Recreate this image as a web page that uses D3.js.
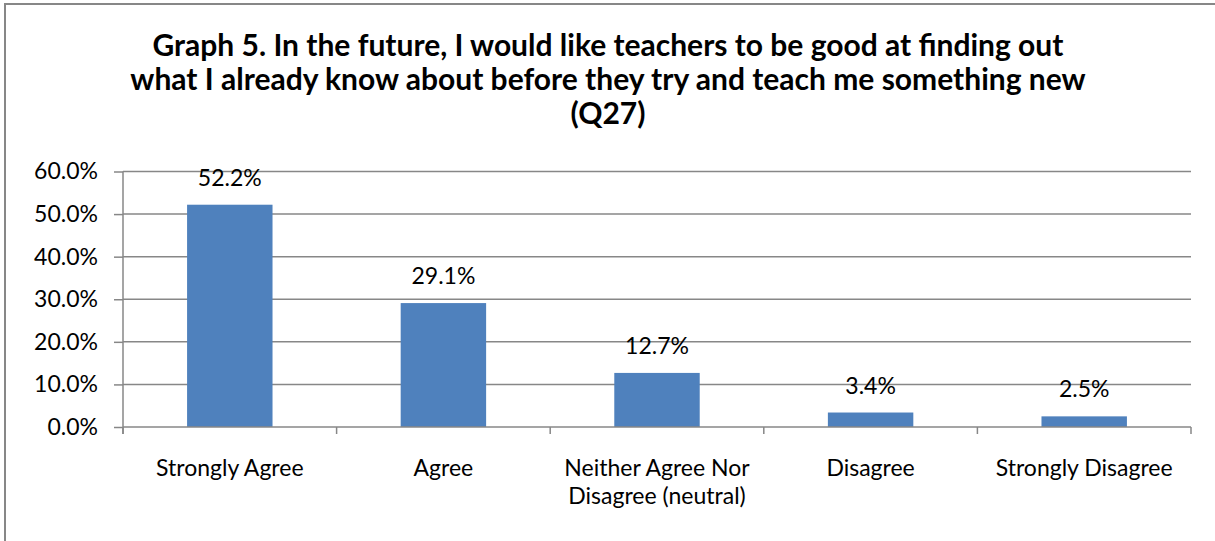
<!DOCTYPE html>
<html>
<head>
<meta charset="utf-8">
<script src="https://cdn.jsdelivr.net/npm/d3@7"></script>
<style>
  html, body { margin: 0; padding: 0; background: #fff; }
  svg { display: block; font-family: Lato, "Open Sans", sans-serif; }
</style>
</head>
<body>
<svg id="chart" width="1215" height="541"></svg>
<script>
// Survey responses for Q27
const categories = [
  ["Strongly Agree"],
  ["Agree"],
  ["Neither Agree Nor", "Disagree (neutral)"],
  ["Disagree"],
  ["Strongly Disagree"]
];
const values = [0.522, 0.291, 0.127, 0.034, 0.025];
const yTicks = [0, 0.1, 0.2, 0.3, 0.4, 0.5, 0.6];
const titleLines = [
  "Graph 5. In the future, I would like teachers to be good at finding out",
  "what I already know about before they try and teach me something new",
  "(Q27)"
];

const svg = d3.select("#chart");
const W = 1215, H = 541;
const gridColor = "#878787";
const barColor = "#4F81BD";
const labelSize = 23;

// outer chart frame
svg.append("rect")
  .attr("x", 5).attr("y", 4)
  .attr("width", W + 10).attr("height", H + 10)
  .attr("fill", "none").attr("stroke", gridColor).attr("stroke-width", 2);

// title
const title = svg.append("text")
  .attr("text-anchor", "middle")
  .attr("font-weight", "bold")
  .attr("font-size", 30)
  .attr("fill", "#000");
titleLines.forEach((t, i) => {
  title.append("tspan").attr("x", 608).attr("y", 56 + i * 34).text(t);
});

const plot = { left: 123, right: 1191, top: 171.5, bottom: 427 };
const keys = categories.map((c, i) => i);

const x = d3.scaleBand().domain(keys).range([plot.left, plot.right]).padding(0);
const y = d3.scaleLinear().domain([0, 0.6]).range([plot.bottom, plot.top]);
const fmt = d3.format(".1%");

// horizontal gridlines
svg.append("g").selectAll("line")
  .data(yTicks.filter(d => d > 0))
  .join("line")
  .attr("x1", plot.left).attr("x2", plot.right)
  .attr("y1", d => y(d)).attr("y2", d => y(d))
  .attr("stroke", gridColor).attr("stroke-width", 1.5);

// y axis
const yAxis = svg.append("g")
  .attr("transform", `translate(${plot.left},0)`)
  .call(d3.axisLeft(y).tickValues(yTicks).tickFormat(fmt).tickSizeInner(9).tickSizeOuter(0).tickPadding(16));
yAxis.select(".domain").remove();
yAxis.selectAll(".tick line").attr("stroke", gridColor).attr("stroke-width", 1.5);
yAxis.selectAll(".tick text")
  .attr("font-family", "Lato, sans-serif")
  .attr("font-size", labelSize).attr("fill", "#000");

// vertical axis line
svg.append("line")
  .attr("x1", plot.left).attr("x2", plot.left)
  .attr("y1", plot.top).attr("y2", plot.bottom + 7)
  .attr("stroke", gridColor).attr("stroke-width", 1.5);

// bars
const barW = x.bandwidth() * 0.4;
svg.append("g").selectAll("rect")
  .data(values)
  .join("rect")
  .attr("x", (d, i) => x(i) + (x.bandwidth() - barW) / 2)
  .attr("width", barW)
  .attr("y", d => y(d))
  .attr("height", d => y(0) - y(d))
  .attr("fill", barColor);

// value labels
svg.append("g").selectAll("text")
  .data(values)
  .join("text")
  .attr("x", (d, i) => x(i) + x.bandwidth() / 2)
  .attr("y", d => y(d) - 19)
  .attr("text-anchor", "middle")
  .attr("font-size", labelSize).attr("fill", "#000")
  .text(d => fmt(d));

// x axis baseline and category ticks
svg.append("line")
  .attr("x1", plot.left).attr("x2", plot.right)
  .attr("y1", y(0)).attr("y2", y(0))
  .attr("stroke", gridColor).attr("stroke-width", 1.5);
const edges = keys.map(k => x(k)).concat([x(keys[keys.length - 1]) + x.bandwidth()]);
svg.append("g").selectAll("line")
  .data(edges)
  .join("line")
  .attr("x1", d => d).attr("x2", d => d)
  .attr("y1", y(0)).attr("y2", y(0) + 7)
  .attr("stroke", gridColor).attr("stroke-width", 1.5);

// category labels
const catG = svg.append("g").selectAll("text")
  .data(categories)
  .join("text")
  .attr("text-anchor", "middle")
  .attr("font-size", labelSize).attr("fill", "#000");
catG.each(function(lines, i) {
  const t = d3.select(this);
  lines.forEach((ln, j) => {
    t.append("tspan")
      .attr("x", x(i) + x.bandwidth() / 2)
      .attr("y", 476 + j * 28)
      .text(ln);
  });
});
</script>
</body>
</html>
